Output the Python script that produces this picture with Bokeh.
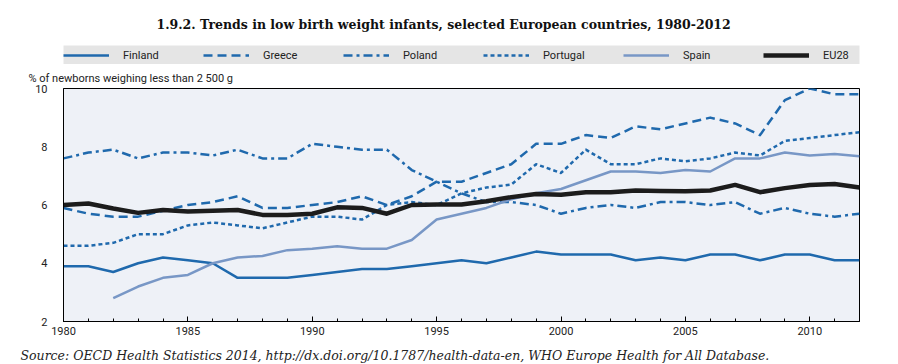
from bokeh.plotting import figure
from bokeh.models import Range1d, SingleIntervalTicker, Legend, LegendItem, Title
from bokeh.layouts import column
from bokeh.embed import file_html
from bokeh.resources import INLINE

years = list(range(1980, 2013))
finland = [3.9, 3.9, 3.7, 4.0, 4.2, 4.1, 4.0, 3.5, 3.5, 3.5,
           3.6, 3.7, 3.8, 3.8, 3.9, 4.0, 4.1, 4.0, 4.2, 4.4,
           4.3, 4.3, 4.3, 4.1, 4.2, 4.1, 4.3, 4.3, 4.1, 4.3,
           4.3, 4.1, 4.1]
greece = [5.9, 5.7, 5.6, 5.6, 5.8, 6.0, 6.1, 6.3, 5.9, 5.9,
          6.0, 6.1, 6.3, 6.0, 6.3, 6.8, 6.8, 7.1, 7.4, 8.1,
          8.1, 8.4, 8.3, 8.7, 8.6, 8.8, 9.0, 8.8, 8.4, 9.6,
          10.0, 9.8, 9.8]
poland = [7.6, 7.8, 7.9, 7.6, 7.8, 7.8, 7.7, 7.9, 7.6, 7.6,
          8.1, 8.0, 7.9, 7.9, 7.2, 6.8, 6.4, 6.1, 6.1, 6.0,
          5.7, 5.9, 6.0, 5.9, 6.1, 6.1, 6.0, 6.1, 5.7, 5.9,
          5.7, 5.6, 5.7]
portugal = [4.6, 4.6, 4.7, 5.0, 5.0, 5.3, 5.4, 5.3, 5.2, 5.4,
            5.6, 5.6, 5.5, 6.0, 6.1, 6.0, 6.4, 6.6, 6.7, 7.4,
            7.1, 7.9, 7.4, 7.4, 7.6, 7.5, 7.6, 7.8, 7.7, 8.2,
            8.3, 8.4, 8.5]
spain = [float("nan"), float("nan"),
         2.8, 3.2, 3.5, 3.6, 4.0, 4.2, 4.25, 4.45,
         4.5, 4.58, 4.5, 4.5, 4.8, 5.5, 5.7, 5.9, 6.2, 6.4,
         6.55, 6.85, 7.15, 7.15, 7.1, 7.2, 7.15, 7.6, 7.6, 7.8,
         7.7, 7.75, 7.67]
eu28 = [6.0, 6.05, 5.88, 5.73, 5.83, 5.78, 5.8, 5.83, 5.66, 5.66,
        5.7, 5.92, 5.9, 5.7, 6.0, 6.02, 6.02, 6.13, 6.27, 6.38,
        6.35, 6.44, 6.44, 6.5, 6.48, 6.47, 6.5, 6.69, 6.44, 6.58,
        6.69, 6.72, 6.6]

names = ["Finland", "Greece", "Poland", "Portugal", "Spain", "EU28"]
values = [finland, greece, poland, portugal, spain, eu28]

BLUE = "#1f69ad"
colors = [BLUE, BLUE, BLUE, BLUE, "#7897c6", "#1c1c1c"]
widths = [2.5, 2.5, 2.5, 2.5, 2.5, 4.5]
dashes = ["solid", "9 5", "9 4 3 4", "4 3", "solid", "solid"]

SANS = "Roboto"

# ---------- header: title + legend band ----------
head = figure(frame_width=796, frame_height=19,
              min_border_left=63, min_border_right=29,
              min_border_top=45, min_border_bottom=0,
              x_range=Range1d(0, 1), y_range=Range1d(0, 1),
              x_axis_type=None, y_axis_type=None,
              toolbar_location=None, output_backend="svg",
              background_fill_color="#e5e5e5", outline_line_color=None,
              title="1.9.2.  Trends in low birth weight infants, selected European countries, 1980-2012")
head.title.align = "left"
head.title.offset = 93
head.title.text_font = "DejaVu Serif"
head.title.text_font_size = "12.5px"
head.title.text_font_style = "bold"
head.title.text_color = "#111111"
head.title.standoff = 28
head.xgrid.visible = False
head.ygrid.visible = False

items = []
for n, v, c, w, d in zip(names, values, colors, widths, dashes):
    # same data as the chart, lying outside this band's ranges: only the legend sample shows
    r = head.line(years, v, line_color=c, line_width=w, line_dash=d)
    items.append(LegendItem(label=n, renderers=[r]))

legend = Legend(items=items, orientation="horizontal", location="center_left",
                margin=0, padding=12, spacing=3,
                glyph_width=46, glyph_height=19, label_standoff=14, label_width=77,
                label_height=19,
                label_text_font=SANS, label_text_font_size="11px",
                label_text_color="#222222",
                background_fill_alpha=0, border_line_color=None)
head.add_layout(legend, "center")

# ---------- main chart ----------
p = figure(frame_width=796, frame_height=233,
           min_border_left=63, min_border_right=29,
           min_border_top=24, min_border_bottom=43,
           x_range=Range1d(1980, 2012), y_range=Range1d(2, 10),
           toolbar_location=None, output_backend="svg",
           background_fill_color="#eef1f7",
           outline_line_color="black", outline_line_width=1,
           title="% of newborns weighing less than 2 500 g")
p.title.align = "left"
p.title.offset = -35
p.title.text_font = SANS
p.title.text_font_size = "11px"
p.title.text_font_style = "normal"
p.title.text_color = "#222222"
p.title.standoff = 7

p.xgrid.visible = False
p.ygrid.visible = False

xa = p.xaxis[0]
xa.ticker = SingleIntervalTicker(interval=5, num_minor_ticks=5)
xa.major_tick_in = 5
xa.major_tick_out = 0
xa.minor_tick_in = 3
xa.minor_tick_out = 0
xa.axis_line_color = "black"
xa.major_tick_line_color = "black"
xa.minor_tick_line_color = "black"
xa.major_label_standoff = 5
xa.major_label_text_font = SANS
xa.major_label_text_font_size = "11px"
xa.major_label_text_color = "#222222"

ya = p.yaxis[0]
ya.ticker = SingleIntervalTicker(interval=2)
ya.major_tick_line_color = None
ya.minor_tick_line_color = None
ya.axis_line_color = "black"
ya.major_label_standoff = 10
ya.major_label_text_font = SANS
ya.major_label_text_font_size = "11px"
ya.major_label_text_color = "#222222"

for n, v, c, w, d in zip(names, values, colors, widths, dashes):
    p.line(years, v, line_color=c, line_width=w, line_dash=d, line_join="round")

src = Title(text="Source:  OECD Health Statistics 2014, http://dx.doi.org/10.1787/health-data-en, WHO Europe Health for All Database.",
            align="left", offset=-43, text_font="DejaVu Serif",
            text_font_style="italic", text_font_size="12.5px",
            text_color="#222222", standoff=17)
p.add_layout(src, "below")

layout = column(head, p, spacing=0)
open("out.html", "w").write(file_html(layout, INLINE))
